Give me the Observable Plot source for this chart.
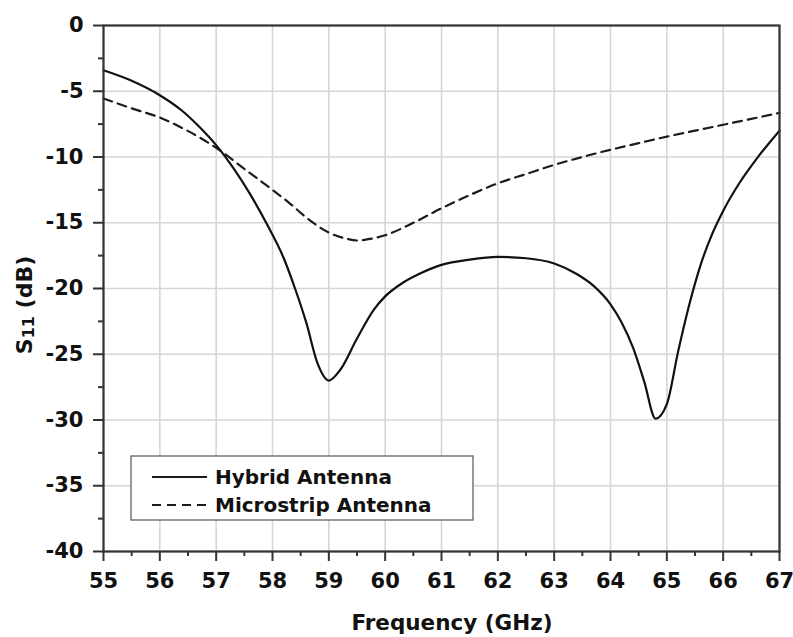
<!DOCTYPE html>
<html>
<head>
<meta charset="utf-8">
<script src="https://cdn.jsdelivr.net/npm/d3@7"></script>
<script src="https://cdn.jsdelivr.net/npm/@observablehq/plot@0.6"></script>
<style>
  body { margin: 0; background: #fff; }
  #chart svg { display: block; }
</style>
</head>
<body>
<div id="chart"></div>
<script>
// Return loss S11 (dB) versus frequency (GHz) for the two antenna designs
const hybridFreq = [55, 55.5, 56, 56.4, 56.7, 57, 57.3, 57.6, 57.9, 58.2, 58.4, 58.6, 58.8, 59.0, 59.2, 59.5, 59.8, 60.0, 60.3, 60.6, 61.0, 61.5, 62.0, 62.5, 63.0, 63.4, 63.7, 64.0, 64.2, 64.4, 64.6, 64.8, 65.0, 65.2, 65.4, 65.6, 65.8, 66.0, 66.3, 66.6, 67.0];
const hybridS11  = [-3.4, -4.2, -5.3, -6.5, -7.7, -9.1, -10.8, -12.8, -15.1, -17.7, -20.0, -22.6, -25.7, -27.0, -26.2, -23.8, -21.6, -20.6, -19.6, -18.9, -18.2, -17.8, -17.6, -17.7, -18.1, -18.9, -19.8, -21.2, -22.6, -24.5, -27.1, -29.9, -28.8, -24.8, -21.2, -18.2, -15.9, -14.1, -11.9, -10.1, -8.0];

const microFreq = [55, 55.5, 56, 56.4, 56.7, 57, 57.5, 58, 58.3, 58.6, 59.0, 59.3, 59.5, 59.7, 60.0, 60.5, 61.0, 61.5, 62.0, 62.5, 63.0, 63.5, 64.0, 64.5, 65.0, 65.5, 66.0, 66.5, 67.0];
const microS11  = [-5.55, -6.3, -7.0, -7.8, -8.5, -9.3, -10.9, -12.5, -13.5, -14.6, -15.75, -16.2, -16.35, -16.25, -15.95, -15.0, -13.9, -12.9, -12.0, -11.3, -10.6, -10.0, -9.45, -8.95, -8.45, -8.0, -7.55, -7.1, -6.65];

const seriesNames = ["Hybrid Antenna", "Microstrip Antenna"];
const xTicks = [55, 56, 57, 58, 59, 60, 61, 62, 63, 64, 65, 66, 67];
const yTicks = [-40, -35, -30, -25, -20, -15, -10, -5, 0];
const xMinorTicks = [55.5, 56.5, 57.5, 58.5, 59.5, 60.5, 61.5, 62.5, 63.5, 64.5, 65.5, 66.5];
const yMinorTicks = [-37.5, -32.5, -27.5, -22.5, -17.5, -12.5, -7.5, -2.5];

const hybrid = hybridFreq.map((f, i) => ({f, s: hybridS11[i]}));
const micro = microFreq.map((f, i) => ({f, s: microS11[i]}));

const dash = "9,6";
const axisColor = "#333";
const plain = d => String(d); // hyphen-minus, as printed on the axes

const chart = Plot.plot({
  width: 793,
  height: 637,
  marginLeft: 103,
  marginRight: 14,
  marginTop: 25,
  marginBottom: 86,
  style: {
    fontFamily: "'DejaVu Sans', sans-serif",
    fontWeight: "bold",
    fontSize: "21px",
    color: "#111",
    background: "#fff"
  },
  x: {domain: [55, 67]},
  y: {domain: [-40, 0]},
  marks: [
    Plot.gridX(xTicks, {stroke: "#d6d6d6", strokeOpacity: 1, strokeWidth: 1.6}),
    Plot.gridY(yTicks, {stroke: "#d6d6d6", strokeOpacity: 1, strokeWidth: 1.6}),
    Plot.line(micro, {x: "f", y: "s", stroke: "#1c1c1c", strokeWidth: 2.2, strokeDasharray: dash, curve: "monotone-x"}),
    Plot.line(hybrid, {x: "f", y: "s", stroke: "#111", strokeWidth: 2.2, curve: "monotone-x"}),
    Plot.frame({stroke: axisColor, strokeWidth: 2.2}),
    Plot.axisX(xTicks, {tickSize: 10, tickPadding: 12, tickFormat: plain, label: null, stroke: axisColor, strokeWidth: 2}),
    Plot.axisX(xMinorTicks, {tickSize: 5, tickFormat: () => "", label: null, stroke: axisColor, strokeWidth: 2}),
    Plot.axisY(yTicks, {tickSize: 10, tickPadding: 10, tickFormat: plain, label: null, stroke: axisColor, strokeWidth: 2}),
    Plot.axisY(yMinorTicks, {tickSize: 5, tickFormat: () => "", label: null, stroke: axisColor, strokeWidth: 2})
  ]
});

const svg = d3.select(chart);

// Axis titles
svg.append("text")
  .attr("x", 452).attr("y", 630)
  .attr("text-anchor", "middle")
  .attr("font-size", "21.5px")
  .attr("fill", "#111")
  .text("Frequency (GHz)");

const yTitle = svg.append("text")
  .attr("transform", "translate(24,305) rotate(-90)")
  .attr("text-anchor", "middle")
  .attr("dominant-baseline", "central")
  .attr("font-size", "22px")
  .attr("fill", "#111");
yTitle.append("tspan").text("S");
yTitle.append("tspan").attr("font-size", "16px").attr("dy", "4").text("11");
yTitle.append("tspan").attr("dy", "-4").text(" (dB)");

// Legend box
const legend = svg.append("g");
legend.append("rect")
  .attr("x", 131).attr("y", 456).attr("width", 342).attr("height", 64)
  .attr("fill", "#fff").attr("stroke", "#555").attr("stroke-width", 1.2);
const rows = [
  {name: seriesNames[0], dash: null, y: 477},
  {name: seriesNames[1], dash: dash, y: 505}
];
rows.forEach(r => {
  legend.append("line")
    .attr("x1", 152).attr("x2", 207).attr("y1", r.y).attr("y2", r.y)
    .attr("stroke", "#1c1c1c").attr("stroke-width", 2.2)
    .attr("stroke-dasharray", r.dash);
  legend.append("text")
    .attr("x", 215).attr("y", r.y)
    .attr("text-anchor", "start")
    .attr("dominant-baseline", "central")
    .attr("font-size", "20px")
    .attr("fill", "#111")
    .text(r.name);
});

document.getElementById("chart").appendChild(chart);
</script>
</body>
</html>
